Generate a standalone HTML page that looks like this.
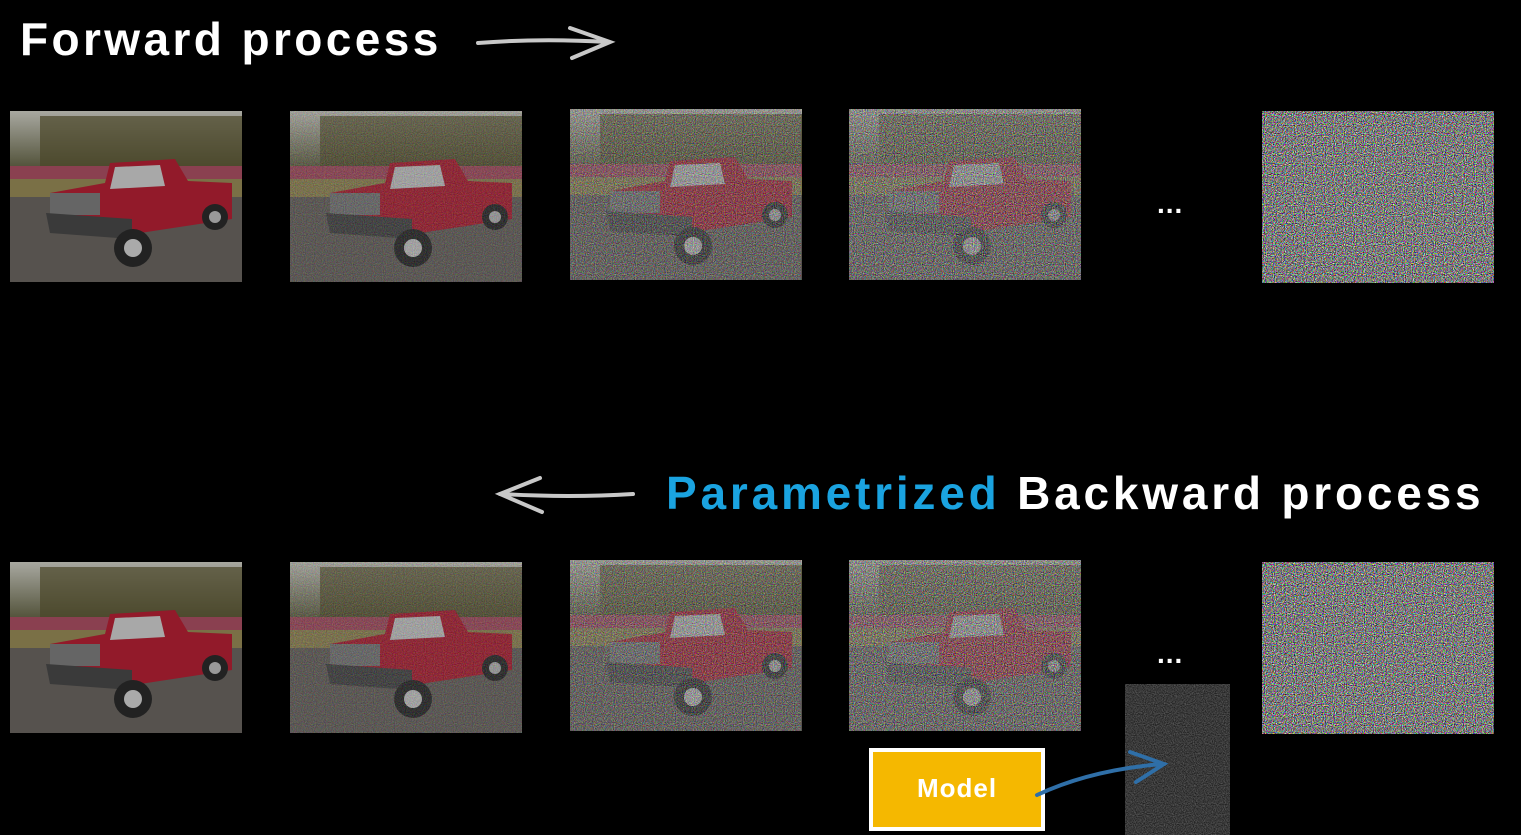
<!DOCTYPE html>
<html><head><meta charset="utf-8"><style>
html,body{margin:0;padding:0;background:#000;width:1521px;height:835px;overflow:hidden;position:relative;font-family:"Liberation Sans",sans-serif}
.t{position:absolute;font-weight:bold;color:#fff;white-space:nowrap;letter-spacing:3.4px}
</style></head><body>
<svg width="1521" height="835" style="position:absolute;left:0;top:0">
<defs>
<filter id="nz" x="0" y="0" width="100%" height="100%" color-interpolation-filters="sRGB">
<feTurbulence type="fractalNoise" baseFrequency="0.9" numOctaves="1" seed="3"/>
<feColorMatrix type="matrix" values="2.2 0 0 0 -0.62  0 2.2 0 0 -0.62  0 0 2.2 0 -0.62  0 0 0 0 1"/>
</filter>
<filter id="nzd" x="0" y="0" width="100%" height="100%" color-interpolation-filters="sRGB">
<feTurbulence type="fractalNoise" baseFrequency="0.9" numOctaves="1" seed="7"/>
<feColorMatrix type="matrix" values="0.45 0 0 0 0  0.45 0 0 0 0  0.45 0 0 0 0  0 0 0 0 1"/>
</filter>
<linearGradient id="sky" x1="0" y1="0" x2="0" y2="1"><stop offset="0" stop-color="#a8a8a0"/><stop offset="1" stop-color="#4a4a30"/></linearGradient>
<g id="truck">
<rect width="232" height="171" fill="#56524e"/>
<rect width="232" height="62" fill="url(#sky)"/>
<rect x="30" y="5" width="202" height="52" fill="#4a4628" opacity="0.7"/>
<rect y="55" width="232" height="14" fill="#8a4050"/>
<rect y="68" width="232" height="18" fill="#7a7046"/>
<polygon points="100,52 165,48 178,70 222,72 222,108 130,122 45,110 40,82 95,72" fill="#921a2a"/>
<polygon points="105,56 150,54 155,75 100,78" fill="#a8a8a8"/>
<rect x="40" y="82" width="50" height="22" fill="#656565"/>
<polygon points="36,102 122,108 122,128 40,122" fill="#3a3a3a"/>
<circle cx="123" cy="137" r="19" fill="#222"/><circle cx="123" cy="137" r="9" fill="#aaa"/>
<circle cx="205" cy="106" r="13" fill="#222"/><circle cx="205" cy="106" r="6" fill="#999"/>
</g>
</defs>
<g stroke="#c8c8c8" stroke-width="4" fill="none" stroke-linecap="round">
<path d="M478,43 Q540,38 608,42"/><path d="M570,28 L610,42 L572,58"/>
</g>
<g stroke="#c8c8c8" stroke-width="4" fill="none" stroke-linecap="round">
<path d="M633,494 Q570,498 500,494"/><path d="M540,478 L500,494 L542,512"/>
</g>
<g><use href="#truck" x="10" y="111"/></g>
<g><use href="#truck" x="290" y="111"/><rect x="290" y="111" width="232" height="171" filter="url(#nz)" opacity="0.18"/></g>
<g><use href="#truck" x="570" y="109"/><rect x="570" y="109" width="231" height="171" filter="url(#nz)" opacity="0.45"/></g>
<g><use href="#truck" x="849" y="109"/><rect x="849" y="109" width="232" height="171" filter="url(#nz)" opacity="0.62"/></g>
<g><rect x="1262" y="111" width="232" height="172" filter="url(#nz)"/></g>
<g><use href="#truck" x="10" y="562"/></g>
<g><use href="#truck" x="290" y="562"/><rect x="290" y="562" width="232" height="171" filter="url(#nz)" opacity="0.18"/></g>
<g><use href="#truck" x="570" y="560"/><rect x="570" y="560" width="231" height="171" filter="url(#nz)" opacity="0.45"/></g>
<g><use href="#truck" x="849" y="560"/><rect x="849" y="560" width="232" height="171" filter="url(#nz)" opacity="0.62"/></g>
<g><rect x="1262" y="562" width="232" height="172" filter="url(#nz)"/></g>
<rect x="1125" y="684" width="105" height="151" filter="url(#nzd)"/>
<rect x="871" y="750" width="172" height="79" fill="#f5b800" stroke="#fff" stroke-width="4"/>
<g stroke="#2f6fa8" stroke-width="4" fill="none" stroke-linecap="round">
<path d="M1037,795 Q1090,770 1162,764"/><path d="M1130,752 L1164,764 L1136,782"/>
</g>
</svg>
<div class="t" style="left:20px;top:12px;font-size:46px">Forward process</div>
<div class="t" style="left:666px;top:466px;font-size:46px;letter-spacing:3.8px"><span style="color:#1aa3e0">Parametrized</span> Backward process</div>
<div class="t" style="left:1157px;top:188px;font-size:28px;letter-spacing:1px">...</div>
<div class="t" style="left:1157px;top:638px;font-size:28px;letter-spacing:1px">...</div>
<div class="t" style="left:871px;top:773px;width:172px;text-align:center;font-size:26px;letter-spacing:1px">Model</div>
</body></html>
